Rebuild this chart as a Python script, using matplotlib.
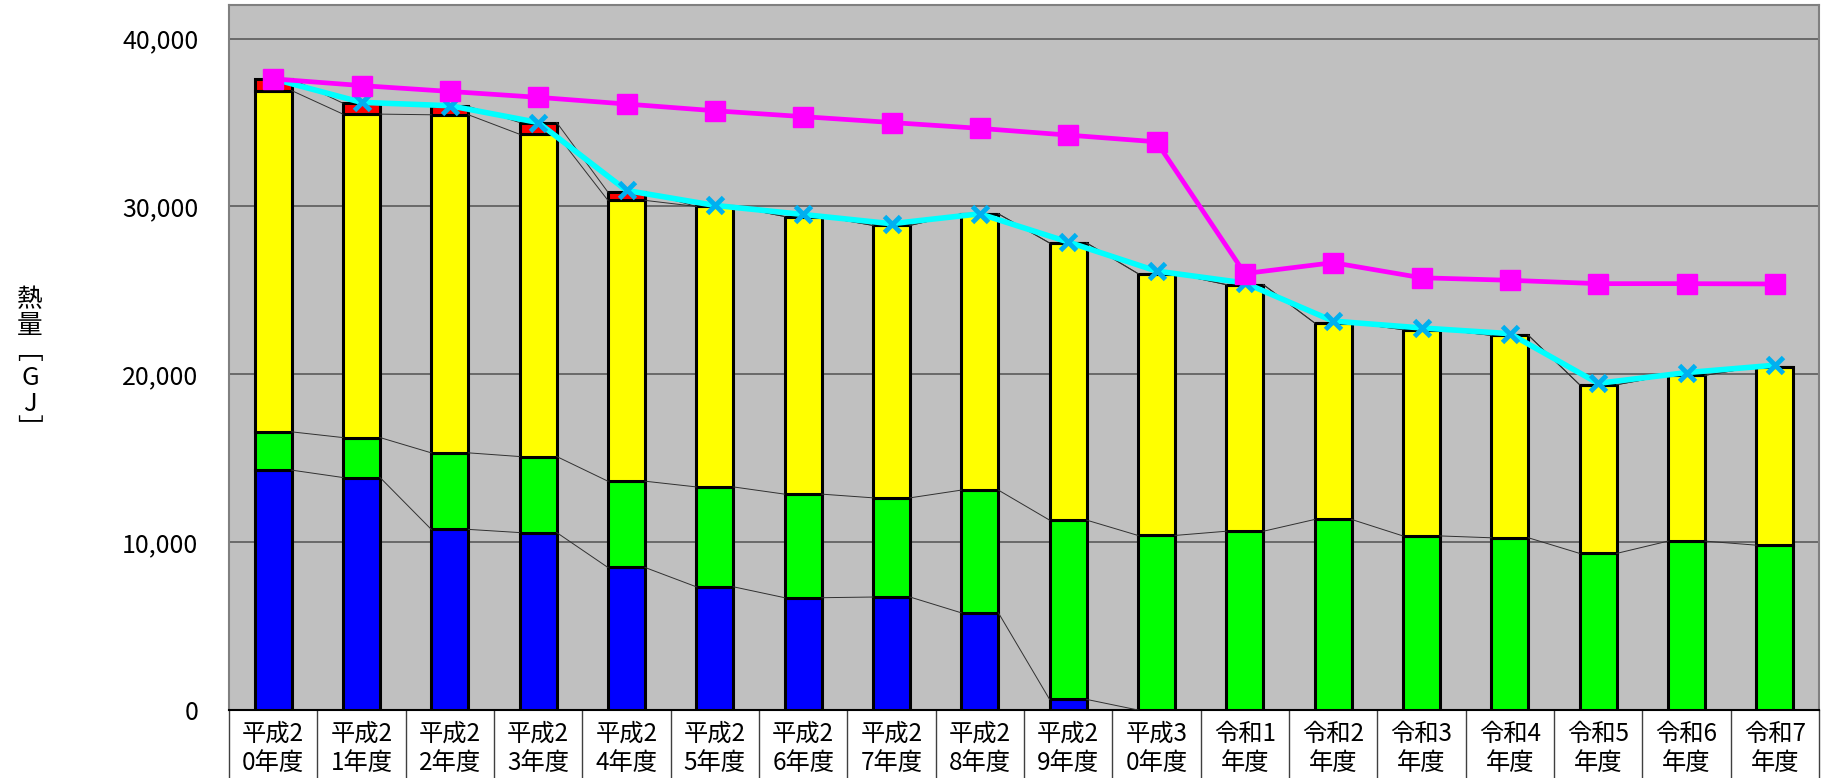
import matplotlib
matplotlib.use("Agg")
import matplotlib.pyplot as plt
import numpy as np

plt.rcParams['font.family'] = ['Noto Sans CJK JP', 'DejaVu Sans']

# 年度ラベル
years = ["平成2\n0年度", "平成2\n1年度", "平成2\n2年度", "平成2\n3年度", "平成2\n4年度",
         "平成2\n5年度", "平成2\n6年度", "平成2\n7年度", "平成2\n8年度", "平成2\n9年度",
         "平成3\n0年度", "令和1\n年度", "令和2\n年度", "令和3\n年度", "令和4\n年度",
         "令和5\n年度", "令和6\n年度", "令和7\n年度"]

# 積み上げ値 [GJ]
blue = [14290, 13850, 10760, 10570, 8490, 7340, 6690, 6730, 5790, 630,
        0, 0, 0, 0, 0, 0, 0, 0]
green = [2280, 2380, 4560, 4530, 5140, 5950, 6170, 5910, 7310, 10680,
         10400, 10650, 11350, 10370, 10260, 9330, 10060, 9820]
yellow = [20330, 19270, 20140, 19200, 16730, 16710, 16540, 16230, 16460, 16510,
          15600, 14690, 11710, 12290, 12060, 10050, 9880, 10620]
red = [700, 650, 500, 700, 490, 0, 0, 0, 0, 0,
       0, 0, 0, 0, 0, 0, 0, 0]

# 折れ線
magenta = [37600, 37200, 36850, 36500, 36100, 35700, 35350, 35000, 34650, 34250,
           33850, 26000, 26650, 25750, 25600, 25400, 25400, 25380]
cyan = [37600, 36200, 36000, 35000, 30950, 30060, 29520, 28970, 29560, 27880,
        26150, 25440, 23170, 22760, 22420, 19460, 20100, 20540]

x = np.arange(len(years))
w = 0.42

fig = plt.figure(figsize=(18.23, 7.78), dpi=100)
ax = fig.add_axes([229 / 1823, 1 - 710 / 778, (1819 - 229) / 1823, 705 / 778])
ax.set_facecolor('#C0C0C0')

bottom = np.zeros(len(x))
tops = []
for vals, col in [(blue, '#0000FF'), (green, '#00FF00'), (yellow, '#FFFF00'), (red, '#FF0000')]:
    vals = np.array(vals, dtype=float)
    ax.bar(x, vals, w, bottom=bottom, color=col, edgecolor='black', linewidth=2.2, zorder=3)
    bottom = bottom + vals
    tops.append(bottom.copy())

# 系列線
for t in tops:
    for i in range(len(x) - 1):
        ax.plot([x[i] + w / 2, x[i + 1] - w / 2], [t[i], t[i + 1]],
                color='#303030', linewidth=0.7, zorder=4)

ax.plot(x, cyan, color='#00FFFF', linewidth=4.0, marker='x', markersize=12,
        markeredgewidth=3.5, markeredgecolor='#00B0F0', zorder=5)
ax.plot(x, magenta, color='#FF00FF', linewidth=3.4, marker='s', markersize=14,
        markerfacecolor='#FF00FF', markeredgecolor='#FF00FF', zorder=6)

ax.set_xlim(-0.5, len(x) - 0.5)
ax.set_ylim(0, 42000)
ax.set_yticks([0, 10000, 20000, 30000, 40000])
ax.set_yticklabels(["0", "10,000", "20,000", "30,000", "40,000"], fontsize=18)
ax.tick_params(axis='y', length=0, pad=22)
ax.set_xticks([])
ax.yaxis.grid(True, color='#5A5A5A', linewidth=1.2, zorder=0)
ax.set_axisbelow(True)
for s in ['top', 'right', 'left']:
    ax.spines[s].set_color('#808080')
    ax.spines[s].set_linewidth(1.5)
ax.spines['bottom'].set_color('black')
ax.spines['bottom'].set_linewidth(1.5)

# 下の表形式ラベル
trans = ax.get_xaxis_transform()
for b in np.arange(-0.5, len(x), 1.0):
    ax.plot([b, b], [0, -0.1], color='#404040', linewidth=1.0, transform=trans, clip_on=False)
for i, lab in enumerate(years):
    ax.text(x[i], -0.054, lab, transform=trans, ha='center', va='center',
            fontsize=17.5, linespacing=1.15, multialignment='center')

fig.text(30 / 1823, 1 - 365 / 778, "熱\n量\n﹇\nG\nJ\n﹈", ha='center', va='center',
         fontsize=18.5, linespacing=1.0, multialignment='center')

fig.savefig("out.png", dpi=100)
